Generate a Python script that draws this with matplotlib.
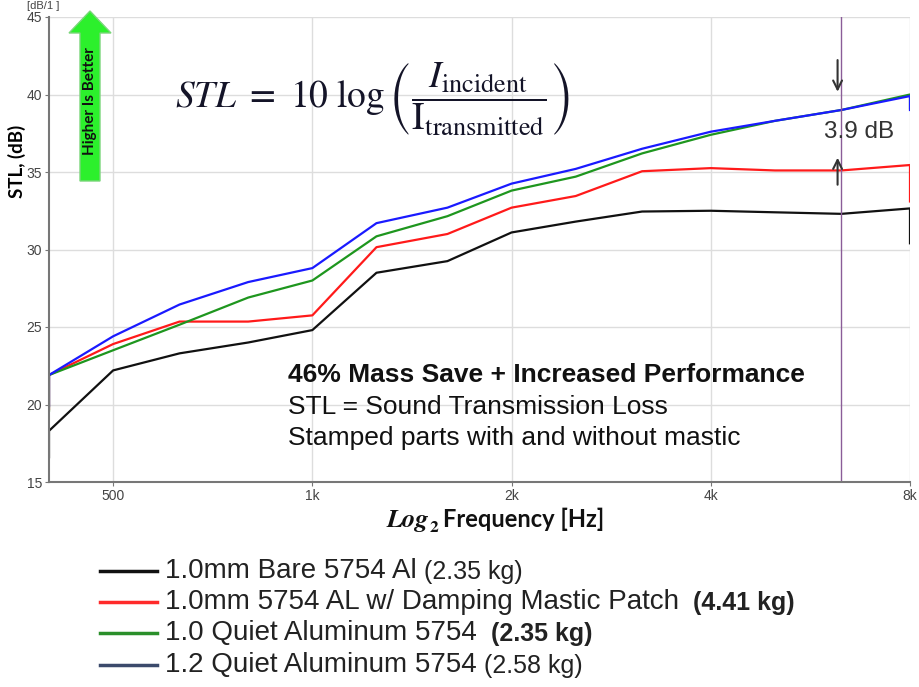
import matplotlib
matplotlib.use("Agg")
import matplotlib.pyplot as plt
from matplotlib.lines import Line2D
from matplotlib.patches import Polygon
from matplotlib.ticker import NullLocator

# 1/3-octave bands; first and last band repeated because the analyser
# draws a vertical edge at both ends of each trace
freqs = [400, 400, 500, 630, 800, 1000, 1250, 1600, 2000, 2500, 3150,
         4000, 5000, 6300, 8000, 8000]
bare = [16.6, 18.3, 22.2, 23.3, 24.0, 24.8, 28.5, 29.25, 31.1, 31.8, 32.45,
        32.5, 32.4, 32.3, 32.65, 30.4]
mastic = [19.7, 21.9, 23.9, 25.35, 25.35, 25.75, 30.15, 31.0, 32.7, 33.45,
          35.05, 35.25, 35.1, 35.1, 35.45, 33.1]
quiet10 = [19.6, 21.9, 23.5, 25.15, 26.9, 28.0, 30.85, 32.15, 33.8, 34.7,
           36.2, 37.4, 38.3, 39.0, 40.0, 39.1]
quiet12 = [19.9, 21.9, 24.4, 26.45, 27.9, 28.8, 31.7, 32.7, 34.25, 35.2,
           36.5, 37.6, 38.3, 39.0, 39.9, 39.0]

xticks = [500, 1000, 2000, 4000, 8000]
xtick_labels = ["500", "1k", "2k", "4k", "8k"]
yticks = [15, 20, 25, 30, 35, 40, 45]
marker_freq = 6300

legend_main = ["1.0mm Bare 5754 Al",
               "1.0mm 5754 AL w/ Damping Mastic Patch",
               "1.0 Quiet Aluminum 5754",
               "1.2 Quiet Aluminum 5754"]
legend_mass = [" (2.35 kg)", "  (4.41 kg)", "  (2.35 kg)", " (2.58 kg)"]
legend_bold = [False, True, True, False]

SANS = ["Liberation Sans", "DejaVu Sans"]
CALI = ["Lato", "DejaVu Sans"]
W, H = 919, 687

fig = plt.figure(figsize=(W / 100, H / 100), dpi=100)
ax = fig.add_axes([49 / W, 1 - 482 / H, (910 - 49) / W, (482 - 17) / H])
renderer = fig.canvas.get_renderer()

ax.plot(freqs, bare, color="#111111", lw=1.6)
ax.plot(freqs, mastic, color="#ff1a1a", lw=1.6)
ax.plot(freqs, quiet10, color="#1e961e", lw=1.6)
ax.plot(freqs, quiet12, color="#1a1aff", lw=1.6)

ax.set_xscale("log", base=2)
ax.set_xlim(400, 8000)
ax.set_ylim(15, 45)
ax.set_xticks(xticks)
ax.set_xticklabels(xtick_labels)
ax.xaxis.set_minor_locator(NullLocator())
ax.set_yticks(yticks)
ax.grid(True, color="#dddddd", lw=1)
ax.set_axisbelow(True)
for s in ["top", "right"]:
    ax.spines[s].set_visible(False)
for s in ["left", "bottom"]:
    ax.spines[s].set_color("#777777")
    ax.spines[s].set_linewidth(1.5)
ax.tick_params(length=3, color="#777777", labelsize=10, labelcolor="#444444", pad=2)
for lab in ax.get_xticklabels() + ax.get_yticklabels():
    lab.set_family(SANS)

ax.set_ylabel("STL, (dB)", family=CALI, weight="bold", fontsize=13.5)
ax.yaxis.set_label_coords(-0.027, 0.69)

fig.text(27 / W, 1 - 6 / H, "[dB/1 ]", fontsize=8, color="#444444",
         family=SANS, va="center")

# x label: "Log" with subscript 2 in a serif bold italic, then sans text
xl_y = 1 - 527 / H
t1 = fig.text(387 / W, xl_y, "Log", family="STIXGeneral", style="italic",
              weight="bold", fontsize=19, va="baseline", color="#111111")
x1 = t1.get_window_extent(renderer=renderer).x1
t2 = fig.text(x1 / W, xl_y - 5 / H, "2", family="STIXGeneral", weight="bold",
              fontsize=12.5, va="baseline", color="#111111")
x2 = t2.get_window_extent(renderer=renderer).x1
fig.text((x2 + 5) / W, xl_y, "Frequency [Hz]", family=CALI, weight="bold",
         fontsize=17, va="baseline", color="#111111")

# measurement marker and delta annotation
ax.axvline(marker_freq, color="#8a5c98", lw=1)
i = freqs.index(marker_freq)
top_val, low_val = quiet12[i], mastic[i]
arrow_x = marker_freq * 0.987
arrow_kw = dict(arrowstyle="->", color="#333333", lw=1.5, mutation_scale=16)
ax.annotate("", xy=(arrow_x, top_val + 1.0), xytext=(arrow_x, top_val + 3.4),
            arrowprops=arrow_kw)
ax.annotate("", xy=(arrow_x, low_val + 1.0), xytext=(arrow_x, low_val - 1.1),
            arrowprops=arrow_kw)
ax.text(marker_freq * 1.065, (top_val + low_val) / 2 + 0.5,
        f"{top_val - low_val:.1f} dB", ha="center", va="center",
        fontsize=17.5, color="#333333", family=SANS)

# formula
fig.text(372 / W, 1 - 99 / H,
         r"$STL\ =\ 10\ \log\left(\dfrac{I_{\mathrm{incident}}}{\mathrm{I}_{\mathrm{transmitted}}}\right)$",
         fontsize=27, math_fontfamily="stix", color="#141428",
         ha="center", va="center")

# notes
fig.text(288 / W, 1 - 375 / H, "46% Mass Save + Increased Performance",
         fontsize=19, weight="bold", family=SANS, va="center", color="#111111")
fig.text(288 / W, 1 - 407 / H, "STL = Sound Transmission Loss",
         fontsize=19, family=SANS, va="center", color="#111111")
fig.text(288 / W, 1 - 438 / H, "Stamped parts with and without mastic",
         fontsize=19, family=SANS, va="center", color="#111111")

# green "higher is better" arrow
pts = [(90, 11), (111, 33), (100, 33), (100, 181), (80, 181), (80, 33), (69, 33)]
fig.patches.append(Polygon([(x / W, 1 - y / H) for x, y in pts], closed=True,
                           transform=fig.transFigure, facecolor="#2cf02c",
                           edgecolor="#7ad67a", lw=1))
fig.text(90 / W, 1 - 101 / H, "Higher Is Better", rotation=90, ha="center",
         va="center", fontsize=11, weight="bold", family=CALI, color="#111111")

# legend below the chart
leg_colors = ["#111111", "#ff2a2a", "#2a8f2a", "#3b4a6b"]
leg_rows = [571, 602, 633, 665]
for name, mass, bold, c, y in zip(legend_main, legend_mass, legend_bold,
                                  leg_colors, leg_rows):
    yf = 1 - y / H
    fig.lines.append(Line2D([100 / W, 157 / W], [yf, yf], color=c, lw=2.5,
                            transform=fig.transFigure))
    t = fig.text(165 / W, yf, name, fontsize=20, family=SANS, va="center",
                 color="#222222")
    bb = t.get_window_extent(renderer=renderer)
    fig.text(bb.x1 / W, yf - 0.002, mass, fontsize=18, family=SANS,
             weight="bold" if bold else "normal", va="center", color="#222222")

fig.savefig("out.png", dpi=100)
